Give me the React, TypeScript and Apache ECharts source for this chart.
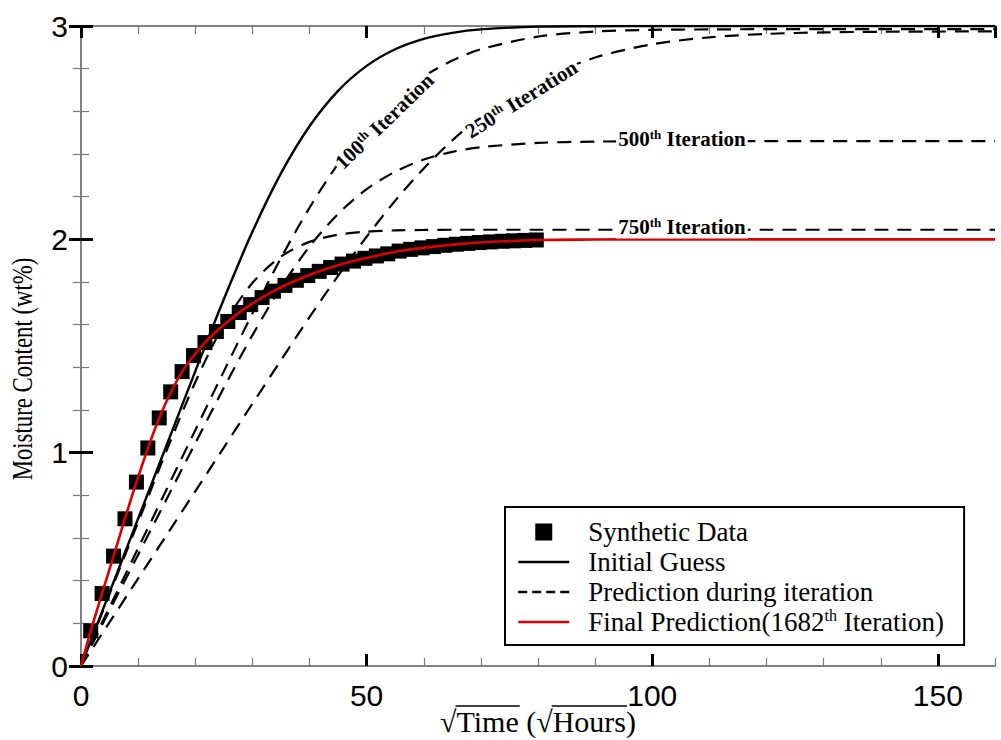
import React, { useEffect, useRef } from 'react';
import * as echarts from 'echarts';

// x grid (sqrt hours) for the model curves
const curveX = [0, 5, 10, 15, 20, 25, 30, 35, 40, 45, 50, 55, 60, 65, 70, 80, 90, 100, 110, 120, 130, 140, 160];
const initialGuess = [0, 0.345, 0.691, 1.036, 1.381, 1.719, 2.035, 2.309, 2.53, 2.696, 2.813, 2.891, 2.94, 2.968, 2.984, 2.997, 2.999, 3.0, 3.0, 3.0, 3.0, 3.0, 3.0];
const iter100 = [0, 0.276, 0.552, 0.829, 1.105, 1.381, 1.652, 1.912, 2.148, 2.354, 2.524, 2.66, 2.763, 2.838, 2.891, 2.95, 2.974, 2.982, 2.984, 2.985, 2.985, 2.985, 2.985];
const iter250 = [0, 0.205, 0.41, 0.614, 0.819, 1.024, 1.229, 1.433, 1.635, 1.829, 2.012, 2.181, 2.332, 2.464, 2.576, 2.745, 2.852, 2.914, 2.947, 2.963, 2.97, 2.973, 2.975];
const iter500 = [0, 0.261, 0.522, 0.783, 1.044, 1.304, 1.55, 1.775, 1.966, 2.119, 2.235, 2.317, 2.374, 2.41, 2.432, 2.452, 2.458, 2.46, 2.46, 2.46, 2.46, 2.46, 2.46];
const iter750 = [0, 0.337, 0.674, 1.011, 1.33, 1.6, 1.795, 1.919, 1.988, 2.022, 2.036, 2.042, 2.044, 2.045, 2.045, 2.045, 2.045, 2.045, 2.045, 2.045, 2.045, 2.045, 2.045];

// synthetic data
const dataX = [1.7, 3.7, 5.7, 7.7, 9.7, 11.7, 13.7, 15.7, 17.7, 19.7, 21.7, 23.7, 25.7, 27.7, 29.7, 31.7, 33.7, 35.7, 37.7, 39.7, 41.7, 43.7, 45.7, 47.7, 49.7, 51.7, 53.7, 55.7, 57.7, 59.7, 61.7, 63.7, 65.7, 67.7, 69.7, 71.7, 73.7, 75.7, 77.7, 79.7];
const dataY = [0.165, 0.34, 0.515, 0.69, 0.862, 1.022, 1.163, 1.285, 1.38, 1.455, 1.516, 1.568, 1.615, 1.657, 1.694, 1.727, 1.757, 1.784, 1.808, 1.83, 1.85, 1.868, 1.884, 1.898, 1.911, 1.922, 1.932, 1.945, 1.953, 1.96, 1.966, 1.972, 1.977, 1.981, 1.985, 1.988, 1.991, 1.993, 1.995, 1.997];

// final prediction
const finalX = [0, 1.7, 5.7, 9.7, 13.7, 17.7, 21.7, 25.7, 29.7, 33.7, 37.7, 41.7, 45.7, 49.7, 55.7, 61.7, 67.7, 73.7, 79.7, 90, 100, 160];
const finalY = [0, 0.165, 0.515, 0.862, 1.163, 1.38, 1.516, 1.615, 1.694, 1.757, 1.808, 1.85, 1.884, 1.911, 1.945, 1.966, 1.981, 1.991, 1.997, 1.999, 2.0, 2.0];

const X_MIN = 0, X_MAX = 160, X_MAJOR = 50, X_MINOR = 10;
const Y_MIN = 0, Y_MAX = 3, Y_MAJOR = 1;

const SERIF = '"Liberation Serif", "Times New Roman", serif';
const SANS = '"Liberation Sans", Arial, sans-serif';

const zip = (xs: number[], ys: number[]) => xs.map((x, i) => [x, ys[i]]);

export default function App() {
  const ref = useRef<HTMLDivElement>(null);
  useEffect(() => {
    document.body.style.margin = '0';
    const chart = echarts.init(ref.current!, null, { renderer: 'svg' });
    const axisLine = { show: true, lineStyle: { color: '#7a7a7a', width: 1.5 } };
    const majorTick = { show: true, inside: true, length: 12, lineStyle: { color: '#000', width: 3 } };
    const minorTickAsMajor = { show: true, inside: true, length: 8, lineStyle: { color: '#7a7a7a', width: 1.2 } };
    const label = { show: true, color: '#000', fontFamily: SANS, fontSize: 30 };
    const xBase = { type: 'value', min: X_MIN, max: X_MAX, splitLine: { show: false }, axisLine };
    const dashed = (d: number[], name = 'Prediction during iteration') => ({
      type: 'line', name, data: zip(curveX, d), symbol: 'none', smooth: 0.3,
      lineStyle: { color: '#000', width: 2.2, type: [14, 9] }, itemStyle: { color: '#000' }, z: 2,
    });
    const hiddenSym = { opacity: 0 };
    chart.setOption({
      animation: false,
      grid: { left: 81, right: 6, top: 26, bottom: 74 },
      xAxis: [
        { ...xBase, position: 'bottom', interval: X_MINOR, axisTick: minorTickAsMajor, axisLabel: { show: false } },
        { ...xBase, position: 'bottom', interval: X_MAJOR, axisTick: majorTick, axisLabel: { ...label, margin: 14, showMaxLabel: false } },
        { ...xBase, position: 'top', interval: X_MINOR, axisTick: minorTickAsMajor, axisLabel: { show: false } },
        { ...xBase, position: 'top', interval: X_MAJOR, axisTick: majorTick, axisLabel: { show: false } },
      ],
      yAxis: [
        { type: 'value', min: Y_MIN, max: Y_MAX, interval: Y_MAJOR, position: 'left', splitLine: { show: false }, axisLine,
          axisTick: majorTick, minorTick: { show: true, splitNumber: 5, length: 8, lineStyle: { color: '#7a7a7a', width: 1.2 } },
          axisLabel: { ...label, margin: 13 } },
        { type: 'value', min: Y_MIN, max: Y_MAX, interval: Y_MAJOR, position: 'right', splitLine: { show: false }, axisLine,
          axisTick: majorTick, minorTick: { show: true, splitNumber: 5, length: 8, lineStyle: { color: '#7a7a7a', width: 1.2 } },
          axisLabel: { show: false } },
      ],
      legend: {
        left: 505, top: 507, orient: 'vertical', selectedMode: false,
        backgroundColor: '#fff', borderColor: '#000', borderWidth: 2, borderRadius: 0,
        padding: [10, 20, 8, 12], itemGap: 0, itemWidth: 51, itemHeight: 17,
        textStyle: { fontFamily: SERIF, fontSize: 27, color: '#000', lineHeight: 30, padding: [0, 0, 0, 14],
          rich: { sup: { fontFamily: SERIF, fontSize: 16, color: '#000', verticalAlign: 'top', lineHeight: 16 },
                  n: { fontFamily: SERIF, fontSize: 27, color: '#000', lineHeight: 30 } } },
        formatter: (name: string) => name === 'Final Prediction' ? '{n|Final Prediction(1682}{sup|th}{n| Iteration)}' : name,
        data: [
          { name: 'Synthetic Data', icon: 'path://M0 0H10V10H0Z', itemStyle: { color: '#000', opacity: 1 } },
          { name: 'Initial Guess', itemStyle: hiddenSym, lineStyle: { color: '#000', width: 2.5 } },
          { name: 'Prediction during iteration',
            icon: 'path://M0 0h9v2.5h-9zM14 0h9v2.5h-9zM28 0h9v2.5h-9zM42 0h9v2.5h-9z',
            itemStyle: { color: '#000', opacity: 1 } },
          { name: 'Final Prediction', itemStyle: hiddenSym, lineStyle: { color: '#dd0000', width: 2.5 } },
        ],
      },
      series: [
        dashed(iter100), dashed(iter250), dashed(iter500), dashed(iter750),
        { type: 'line', name: 'Initial Guess', data: zip(curveX, initialGuess), symbol: 'none', smooth: 0.3,
          lineStyle: { color: '#000', width: 2.4 }, itemStyle: { color: '#000' }, z: 3 },
        { type: 'scatter', name: 'Synthetic Data', data: zip(dataX, dataY), symbol: 'rect', symbolSize: 15,
          itemStyle: { color: '#000', opacity: 1 }, z: 4 },
        { type: 'line', name: 'Final Prediction', data: zip(finalX, finalY), symbol: 'none', smooth: 0.3,
          lineStyle: { color: '#dd0000', width: 2.6 }, itemStyle: { color: '#dd0000' }, z: 5 },
      ],
    });

    const px = (x: number, y: number) => chart.convertToPixel({ seriesIndex: 0 }, [x, y]) as number[];
    const rich = {
      n: { fontFamily: SERIF, fontSize: 21, fontWeight: 'bold', fill: '#000', lineHeight: 22 },
      s: { fontFamily: SERIF, fontSize: 13, fontWeight: 'bold', fill: '#000', verticalAlign: 'top', lineHeight: 13 },
    };
    const iterLabel = (n: string, x: number, y: number, rotDeg: number) => {
      const p = px(x, y);
      return {
        type: 'text', x: p[0], y: p[1], rotation: (rotDeg * Math.PI) / 180, z: 100,
        style: { text: `{n|${n}}{s|th}{n| Iteration}`, rich, align: 'center', verticalAlign: 'middle',
          backgroundColor: '#fff', padding: [0, 2] },
      };
    };
    const ctx = document.createElement('canvas').getContext('2d')!;
    ctx.font = `30px ${SERIF}`;
    const w = (s: string) => ctx.measureText(s).width;
    const xTitle = '√Time (√Hours)';
    const cx = 538;
    const left = cx - w(xTitle) / 2;
    const oy = 706;
    chart.setOption({
      graphic: [
        iterLabel('100', 53.1, 2.554, 44),
        iterLabel('250', 77.1, 2.657, 32),
        iterLabel('500', 105.2, 2.47, 0),
        iterLabel('750', 105.2, 2.056, 0),
        { type: 'text', x: cx, y: 721, z: 100,
          style: { text: xTitle, font: `30px ${SERIF}`, fill: '#000', align: 'center', verticalAlign: 'middle' } },
        { type: 'line', z: 100, shape: { x1: left + w('√') - 1, y1: oy, x2: left + w('√Time') + 1, y2: oy },
          style: { stroke: '#000', lineWidth: 1.5 } },
        { type: 'line', z: 100, shape: { x1: left + w('√Time (√') - 1, y1: oy, x2: left + w('√Time (√Hours') + 1, y2: oy },
          style: { stroke: '#000', lineWidth: 1.5 } },
        { type: 'text', x: 22, y: 369, rotation: Math.PI / 2, scaleX: 0.76, z: 100,
          style: { text: 'Moisture Content (wt%)', font: `30px ${SERIF}`, fill: '#000', align: 'center', verticalAlign: 'middle' } },
      ],
    });
    return () => chart.dispose();
  }, []);
  return <div ref={ref} style={{ width: 1001, height: 740, position: 'absolute', left: 0, top: 0 }} />;
}
